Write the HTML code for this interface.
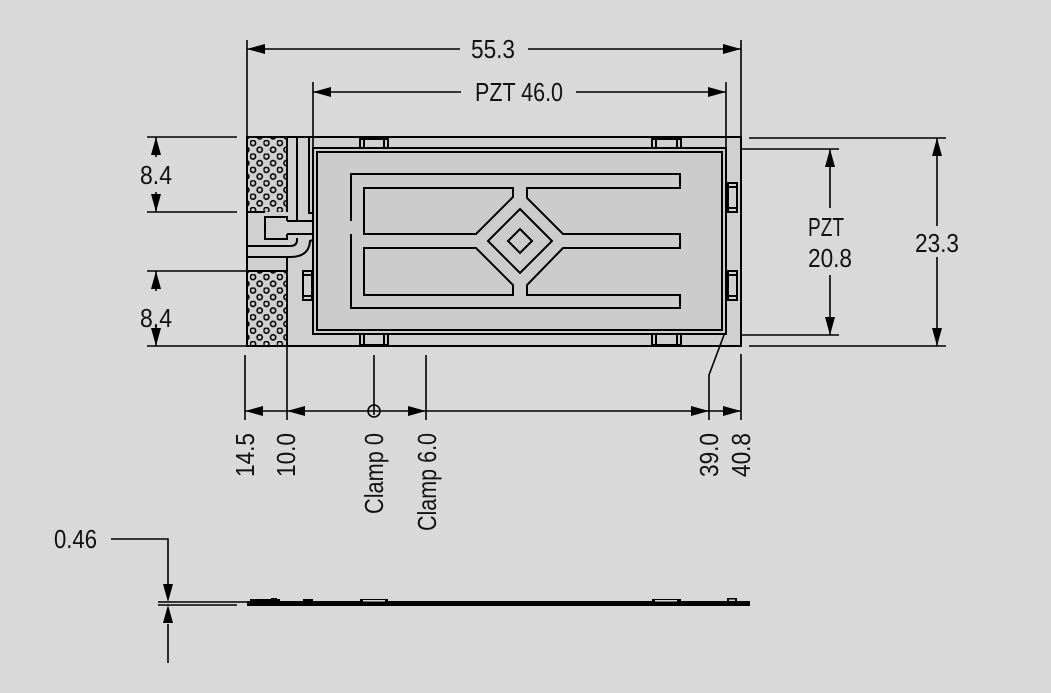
<!DOCTYPE html>
<html><head><meta charset="utf-8"><style>
html,body{margin:0;padding:0;background:#d9d9d9;}
svg{display:block;}
text{font-family:"Liberation Sans Narrow","Liberation Sans",sans-serif;font-size:26px;fill:#111;}
</style></head><body>
<svg width="1051" height="693" viewBox="0 0 1051 693" xmlns="http://www.w3.org/2000/svg">
<defs>
<pattern id="dots" x="250" y="140" width="13.4" height="13.4" patternUnits="userSpaceOnUse">
<circle cx="3" cy="3" r="2.6" fill="none" stroke="#000" stroke-width="1.6"/>
<circle cx="9.7" cy="9.7" r="2.6" fill="none" stroke="#000" stroke-width="1.6"/>
</pattern>
<marker id="a" viewBox="0 0 18 10" refX="18" refY="5" markerWidth="18" markerHeight="10" markerUnits="userSpaceOnUse" orient="auto-start-reverse"><path d="M18,5 L0,0 L0,10 Z" fill="#000"/></marker>
</defs>
<rect width="1051" height="693" fill="#d9d9d9"/>

<!-- board -->
<rect x="247" y="137" width="494" height="209" fill="#d0d0d0" stroke="#000" stroke-width="2"/>
<rect x="248" y="138" width="39" height="74" fill="url(#dots)"/>
<rect x="248" y="271" width="39" height="74" fill="url(#dots)"/>
<g fill="none" stroke="#000" stroke-width="2">
<line x1="287" y1="137" x2="287" y2="212"/>
<line x1="287" y1="257" x2="287" y2="346"/>
<line x1="247" y1="212" x2="265" y2="212"/>
<line x1="247" y1="271" x2="287" y2="271"/>
<polyline points="297,137 297,221"/>
<polyline points="309,137 309,213 313,213"/>
<path d="M247,246 L290,246 Q297,246 297,240 L297,238"/>
<path d="M247,257 L290,257 Q309,257 310,241 L313,240"/>
<path d="M287,221 L351,221 M287,234 L351,234"/>
<path d="M287,221 L287,217 L265,217 L265,239 L287,239 L287,234"/>
<rect x="313" y="148" width="413" height="186" fill="#cccccc"/>
<rect x="317" y="152" width="405" height="178"/>
<path d="M351,221 L351,174 L680,174 L680,188 L527,188 L527,198 L563,234 L680,234 L680,248 L563,248 L527,285 L527,295 L680,295 L680,308 L351,308 L351,234"/>
<path d="M364,188 L513,188 L513,197 L476,234 L364,234 Z"/>
<path d="M364,248 L476,248 L513,285 L513,295 L364,295 Z"/>
<path d="M520,209 L552,241 L520,273 L488,241 Z"/>
<path d="M520,229 L532,241 L520,253 L508,241 Z"/>
<rect x="360" y="139" width="28" height="9"/><line x1="364" y1="139" x2="364" y2="148"/><line x1="384" y1="139" x2="384" y2="148"/>
<rect x="652" y="139" width="29" height="9"/><line x1="656" y1="139" x2="656" y2="148"/><line x1="677" y1="139" x2="677" y2="148"/>
<rect x="360" y="334" width="28" height="11"/><line x1="364" y1="334" x2="364" y2="345"/><line x1="384" y1="334" x2="384" y2="345"/>
<rect x="652" y="334" width="29" height="11"/><line x1="656" y1="334" x2="656" y2="345"/><line x1="677" y1="334" x2="677" y2="345"/>
<rect x="728" y="183" width="9" height="29"/><line x1="728" y1="187" x2="737" y2="187"/><line x1="728" y1="208" x2="737" y2="208"/>
<rect x="728" y="271" width="9" height="29"/><line x1="728" y1="275" x2="737" y2="275"/><line x1="728" y1="296" x2="737" y2="296"/>
<rect x="303" y="271" width="9" height="29"/><line x1="303" y1="275" x2="312" y2="275"/><line x1="303" y1="296" x2="312" y2="296"/>
</g>

<g fill="none" stroke="#000" stroke-width="1.6">
<line x1="247" y1="40" x2="247" y2="137"/><line x1="741" y1="40" x2="741" y2="137"/>
<line x1="247" y1="49" x2="460" y2="49" marker-start="url(#a)"/>
<line x1="528" y1="49" x2="741" y2="49" marker-end="url(#a)"/>
<line x1="313" y1="82" x2="313" y2="148"/><line x1="726" y1="82" x2="726" y2="148"/>
<line x1="313" y1="92" x2="461" y2="92" marker-start="url(#a)"/>
<line x1="576" y1="92" x2="726" y2="92" marker-end="url(#a)"/>
<line x1="147" y1="137" x2="237" y2="137"/><line x1="147" y1="212" x2="237" y2="212"/>
<line x1="147" y1="271" x2="247" y2="271"/><line x1="147" y1="346" x2="247" y2="346"/>
<line x1="156" y1="137" x2="156" y2="157" marker-start="url(#a)"/>
<line x1="156" y1="192" x2="156" y2="212" marker-end="url(#a)"/>
<line x1="156" y1="271" x2="156" y2="291" marker-start="url(#a)"/>
<line x1="156" y1="326" x2="156" y2="346" marker-end="url(#a)"/>
<line x1="749" y1="138" x2="946" y2="138"/><line x1="749" y1="346" x2="946" y2="346"/>
<line x1="741" y1="149" x2="839" y2="149"/><line x1="741" y1="335" x2="839" y2="335"/>
<line x1="830" y1="149" x2="830" y2="208" marker-start="url(#a)"/>
<line x1="830" y1="275" x2="830" y2="335" marker-end="url(#a)"/>
<line x1="937" y1="138" x2="937" y2="226" marker-start="url(#a)"/>
<line x1="937" y1="257" x2="937" y2="346" marker-end="url(#a)"/>
<line x1="245" y1="355" x2="245" y2="420"/>
<line x1="287" y1="346" x2="287" y2="420"/>
<line x1="374" y1="355" x2="374" y2="415"/>
<line x1="426" y1="355" x2="426" y2="420"/>
<polyline points="724,335 709,375 709,420"/>
<line x1="741" y1="354" x2="741" y2="420"/>
<line x1="245" y1="411" x2="741" y2="411"/>
<circle cx="374" cy="411" r="6"/>
</g>
<g fill="#000">
<path d="M245,411 L263,406 L263,416 Z"/>
<path d="M287,411 L305,406 L305,416 Z"/>
<path d="M426,411 L408,406 L408,416 Z"/>
<path d="M709,411 L691,406 L691,416 Z"/>
<path d="M741,411 L723,406 L723,416 Z"/>
</g>

<g fill="none" stroke="#000" stroke-width="1.6">
<polyline points="111,539 168,539 168,584"/>
<line x1="168" y1="624" x2="168" y2="663"/>
<line x1="158" y1="602" x2="247" y2="602"/>
<line x1="158" y1="605" x2="237" y2="605"/>
</g>
<g fill="#000">
<path d="M168,602 L163,584 L173,584 Z"/>
<path d="M168,605 L163,623 L173,623 Z"/>
<rect x="247" y="601" width="503" height="5"/>
<rect x="250" y="599" width="30" height="3"/>
<rect x="271" y="598" width="6" height="3"/>
<rect x="303" y="599" width="10" height="3"/>
<rect x="360" y="599" width="28" height="3"/>
<rect x="652" y="599" width="29" height="3"/>
<rect x="727" y="598" width="10" height="4"/>
</g>
<g fill="#d9d9d9"><rect x="363" y="600" width="22" height="1.5"/><rect x="655" y="600" width="22" height="1.5"/><rect x="729" y="599.5" width="6" height="1.5"/></g>

<g lengthAdjust="spacingAndGlyphs">
<text x="471" y="58" textLength="44" lengthAdjust="spacingAndGlyphs">55.3</text>
<text x="475" y="101" textLength="88" lengthAdjust="spacingAndGlyphs">PZT 46.0</text>
<text x="140" y="184" textLength="32" lengthAdjust="spacingAndGlyphs">8.4</text>
<text x="140" y="327" textLength="32" lengthAdjust="spacingAndGlyphs">8.4</text>
<text x="808" y="236" textLength="36" lengthAdjust="spacingAndGlyphs">PZT</text>
<text x="808" y="267" textLength="44" lengthAdjust="spacingAndGlyphs">20.8</text>
<text x="915" y="252" textLength="44" lengthAdjust="spacingAndGlyphs">23.3</text>
<text x="54" y="548" textLength="43" lengthAdjust="spacingAndGlyphs">0.46</text>
<text transform="translate(254,477) rotate(-90)" textLength="44" lengthAdjust="spacingAndGlyphs">14.5</text>
<text transform="translate(295,477) rotate(-90)" textLength="44" lengthAdjust="spacingAndGlyphs">10.0</text>
<text transform="translate(383,514) rotate(-90)" textLength="81" lengthAdjust="spacingAndGlyphs">Clamp 0</text>
<text transform="translate(436,531) rotate(-90)" textLength="98" lengthAdjust="spacingAndGlyphs">Clamp 6.0</text>
<text transform="translate(718,477) rotate(-90)" textLength="44" lengthAdjust="spacingAndGlyphs">39.0</text>
<text transform="translate(750,477) rotate(-90)" textLength="44" lengthAdjust="spacingAndGlyphs">40.8</text>
</g>
</svg>
</body></html>
